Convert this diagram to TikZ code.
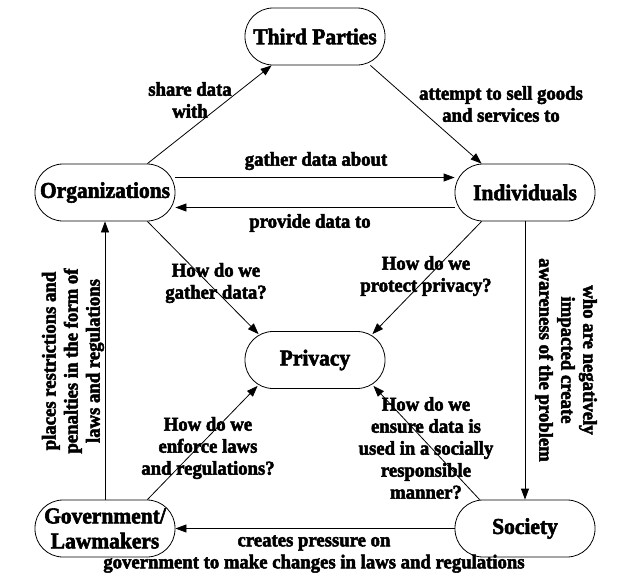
\documentclass[tikz,border=0pt]{standalone}
\usepackage{fontspec}
\setmainfont{Liberation Serif}
\newfontfamily\heavy{Liberation Serif Bold}[FakeBold=2.5,FakeStretch=0.95]
\usetikzlibrary{arrows.meta}
\tikzset{
  box/.style={draw, line width=0.8pt, rectangle, rounded corners=28pt,
    minimum width=140pt, minimum height=57pt, inner sep=0pt,
    font=\fontsize{22.6}{25}\heavy, align=center},
  lbl/.style={font=\fontsize{19.7}{22}\heavy, align=center, inner sep=0pt},
  conn/.style={line width=0.8pt, -{Triangle[length=11pt,width=8pt]}},
}
\begin{document}
\begin{tikzpicture}[x=1pt,y=-1pt]
\useasboundingbox (0,0) rectangle (641,582);
\node[box] (tp)   at (315,36.5)  {Third Parties};
\node[box] (org)  at (105,192.5) {Organizations};
\node[box] (ind)  at (525,192.5) {Individuals};
\node[box] (priv) at (315,360)   {Privacy};
\node[box] (gov)  at (105,528.5) {Government/\\Lawmakers};
\node[box] (soc)  at (525,528.5) {Society};

\draw[conn] ([xshift=-28pt]org.north east) -- ([xshift=27pt]tp.south west);
\draw[conn] ([xshift=-15pt]tp.south east) -- ([xshift=27pt]ind.north west);
\draw[conn] ([yshift=15pt]org.east) -- ([yshift=15pt]ind.west);
\draw[conn] ([yshift=-15pt]ind.west) -- ([yshift=-15pt]org.east);
\draw[conn] ([xshift=-28pt]org.south east) -- ([shift={(14pt,-3pt)}]priv.north west);
\draw[conn] ([xshift=27pt]ind.south west) -- ([shift={(-13pt,-3pt)}]priv.north east);
\draw[conn] ([xshift=-28pt]gov.north east) -- ([shift={(13pt,3pt)}]priv.south west);
\draw[conn] ([xshift=25pt]soc.north west) -- ([shift={(-12pt,3pt)}]priv.south east);
\draw[conn] (gov.north) -- (org.south);
\draw[conn] (ind.south) -- (soc.north);
\draw[conn] (soc.west) -- (gov.east);

\node[lbl] (l1) at (190,100) {share data\\with};
\node[lbl] (l2) at (501,104) {attempt to sell goods\\and services to};
\node[lbl] (l3) at (316,161) {gather data about};
\node[lbl] (l4) at (310,223) {provide data to};
\node[lbl] (l5) at (216,283) {How do we\\gather data?};
\node[lbl] (l6) at (426,276) {How do we\\protect privacy?};
\node[lbl] (l7) at (208,448) {How do we\\enforce laws\\and regulations?};
\node[lbl] (l8) at (426,448) {How do we\\ensure data is\\used in a socially\\responsible\\manner?};
\node[lbl, rotate=90] (l9) at (73,361) {places restrictions and\\penalties in the form of\\laws and regulations};
\node[lbl, rotate=-90] (l10) at (566,360) {who are negatively\\impacted create\\awareness of the problem};
\node[lbl] (l11) at (314,554) {creates pressure on\\government to make changes in laws and regulations};
\end{tikzpicture}
\end{document}
